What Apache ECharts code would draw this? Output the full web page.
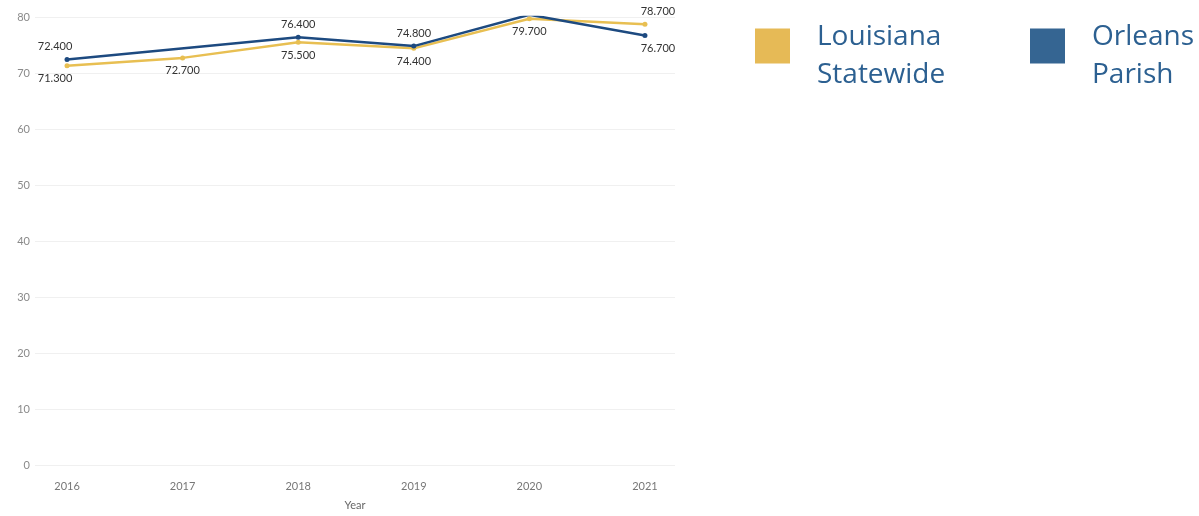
<!DOCTYPE html>
<html>
<head>
<meta charset="utf-8">
<script src="https://cdn.jsdelivr.net/npm/echarts@6/dist/echarts.min.js"></script>
<style>
  html, body { margin: 0; padding: 0; background: #ffffff; }
  #chart { width: 1199px; height: 516px; }
</style>
</head>
<body>
<div id="chart"></div>
<script>
// Years on the horizontal axis
const years = [2016, 2017, 2018, 2019, 2020, 2021];
// Series values (Orleans has no 2017 figure; the line is joined across the gap)
const louisianaStatewide = [71.3, 72.7, 75.5, 74.4, 79.7, 78.7];
const orleansParish = [72.4, null, 76.4, 74.8, 80.4, 76.7];
// Where each point's label sits relative to its point
const louisianaLabelPos = ['bottom', 'bottom', 'bottom', 'bottom', 'bottom', 'top'];
const orleansLabelPos = ['top', 'top', 'top', 'top', 'top', 'bottom'];
// Vertical axis ticks
const yTicks = [0, 10, 20, 30, 40, 50, 60, 70, 80];
const seriesNames = ['Louisiana Statewide', 'Orleans Parish'];
// Legend captions, wrapped onto two lines
const legendCaptions = ['Louisiana\nStatewide', 'Orleans\nParish'];

const chart = echarts.init(document.getElementById('chart'));

function buildPoints(values, positions) {
  const last = values.length - 1;
  return values.map((v, i) => {
    let dx = 0;
    if (i === 0) dx = -12;
    if (i === last) dx = 13;
    return {
      value: [years[i], v],
      label: { show: v !== null, position: positions[i], offset: [dx, 0] }
    };
  });
}

const labelStyle = {
  fontFamily: 'Lato, "Open Sans", sans-serif',
  fontSize: 11,
  color: '#333333',
  distance: 5,
  formatter: p => p.value[1].toFixed(3)
};

// A short spacer line above the caption drops the text below the swatch centre
const legendText = {
  fontFamily: '"Open Sans", "Noto Sans", sans-serif',
  fontSize: 28,
  color: '#2c6091',
  lineHeight: 38,
  padding: [0, 0, 0, 22],
  rich: {
    s: { fontSize: 8, lineHeight: 20 }
  }
};

function legendFor(idx, left, swatch) {
  return {
    data: [seriesNames[idx]],
    left: left, top: -7,
    itemWidth: 35, itemHeight: 35,
    icon: 'rect',
    formatter: () => '{s| }\n' + legendCaptions[idx],
    textStyle: legendText,
    itemStyle: { color: swatch },
    selectedMode: false
  };
}

chart.setOption({
  animation: false,
  backgroundColor: '#ffffff',
  grid: { left: 35, right: 524, top: 17, bottom: 48, containLabel: false },
  legend: [
    legendFor(0, 750, '#e6ba56'),
    legendFor(1, 1025, '#356592')
  ],
  xAxis: {
    type: 'value',
    min: 2015.723,
    max: 2021.26,
    name: 'Year',
    nameLocation: 'middle',
    nameGap: 35,
    nameTextStyle: { fontFamily: 'Lato, sans-serif', fontSize: 11, color: '#666' },
    axisLine: { show: false },
    axisTick: { show: false },
    splitLine: { show: false },
    axisLabel: {
      customValues: years,
      formatter: v => String(v),
      fontFamily: 'Lato, sans-serif',
      fontSize: 11,
      color: '#777',
      margin: 16
    }
  },
  yAxis: {
    type: 'value',
    min: 0,
    max: 80,
    interval: 10,
    axisLine: { show: false },
    axisTick: { show: false },
    splitLine: { lineStyle: { color: '#f0f0f0', width: 1 } },
    axisLabel: {
      customValues: yTicks,
      fontFamily: 'Lato, sans-serif',
      fontSize: 11,
      color: '#8a8a8a',
      margin: 5,
      verticalAlign: 'middle'
    }
  },
  series: [
    {
      name: seriesNames[0],
      type: 'line',
      data: buildPoints(louisianaStatewide, louisianaLabelPos),
      color: '#e6ba56',
      lineStyle: { color: '#e8bf52', width: 2.5 },
      itemStyle: { color: '#e8bf52' },
      symbol: 'circle',
      symbolSize: 5,
      label: labelStyle,
      z: 2
    },
    {
      name: seriesNames[1],
      type: 'line',
      data: buildPoints(orleansParish, orleansLabelPos),
      connectNulls: true,
      color: '#356592',
      lineStyle: { color: '#1d4a80', width: 2.5 },
      itemStyle: { color: '#1d4a80' },
      symbol: 'circle',
      symbolSize: 5,
      label: labelStyle,
      z: 3
    }
  ]
});
</script>
</body>
</html>
